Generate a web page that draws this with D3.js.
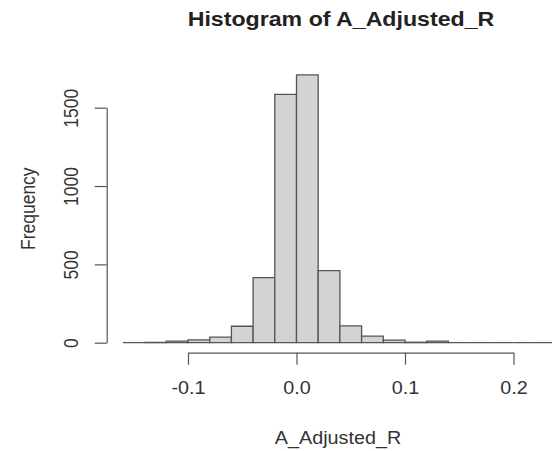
<!DOCTYPE html>
<html>
<head>
    <meta charset="utf-8">
    <title>Histogram of A_Adjusted_R</title>
    <style type="text/css">
        body { margin: 0; background: #fff; }
        svg { display: block; font-family: "Liberation Sans", Arial, sans-serif; }
        .axis path, .axis line { stroke: #555; stroke-width: 1.2; }
        .axis text { fill: #333; font-size: 17.5px; }
    </style>
</head>
<body>
    <script src="https://cdn.jsdelivr.net/npm/d3@7"></script>
    <script>
        // histogram breaks (bin width 0.02) and counts
        var breaks = [-0.16, -0.14, -0.12, -0.10, -0.08, -0.06, -0.04, -0.02, 0.00, 0.02, 0.04,
            0.06, 0.08, 0.10, 0.12, 0.14, 0.16, 0.18, 0.20, 0.22, 0.24, 0.26];
        var counts = [0, 2, 10, 18, 35, 105, 415, 1585, 1710, 460, 108,
            42, 17, 3, 10, 0, 0, 0, 0, 0, 0];
        var xTicks = [-0.1, 0.0, 0.1, 0.2];
        var yTicks = [0, 500, 1000, 1500];

        var width = 552,
            height = 451,
            sx = 1.13; // the source image is a little wider than tall

        var x = d3.scaleLinear().domain([-0.1, 0.2]).range([188, 513.5]);
        var y = d3.scaleLinear().domain([0, 1500]).range([342.7, 107.7]);

        var svg = d3.select("body").append("svg")
            .attr("width", width)
            .attr("height", height);

        var bins = counts.map(function (c, i) {
            return { x0: breaks[i], x1: breaks[i + 1], n: c };
        });

        // paths instead of rects, so empty bins still leave their bottom line
        svg.append("g").selectAll("path")
            .data(bins)
            .enter().append("path")
            .attr("d", function (d) {
                return "M" + x(d.x0) + "," + y(0) + "V" + y(d.n) + "H" + x(d.x1) + "V" + y(0) + "Z";
            })
            .style("fill", "#d3d3d3")
            .style("stroke", "#555")
            .style("stroke-width", 1.3);

        var xAxis = svg.append("g")
            .attr("class", "axis")
            .attr("transform", "translate(0,352.7)")
            .call(d3.axisBottom(x).tickValues(xTicks).tickSize(12).tickSizeOuter(0)
                .tickFormat(function (d) { return d.toFixed(1); }));
        xAxis.selectAll("text")
            .attr("y", null).attr("dy", "0.35em")
            .attr("transform", "translate(0,35.5) scale(" + sx + ",1)");

        var yAxis = svg.append("g")
            .attr("class", "axis")
            .attr("transform", "translate(106.7,0)")
            .call(d3.axisLeft(y).tickValues(yTicks).tickSize(12).tickSizeOuter(0)
                .tickFormat(function (d) { return String(d); }));
        yAxis.selectAll("text")
            .attr("x", null).attr("dy", "0.35em")
            .style("text-anchor", "middle")
            .attr("transform", "translate(-36,0) scale(" + sx + ",1) rotate(-90)");
        svg.selectAll(".axis").attr("font-family", null).attr("font-size", null);

        svg.append("text")
            .attr("transform", "translate(341,19) scale(" + sx + ",1)")
            .attr("dy", "0.35em")
            .style("text-anchor", "middle")
            .style("font-weight", "bold")
            .style("font-size", "20.5px")
            .style("fill", "#222")
            .text("Histogram of A_Adjusted_R");

        svg.append("text")
            .attr("transform", "translate(338,438) scale(" + sx + ",1)")
            .attr("dy", "0.35em")
            .style("text-anchor", "middle")
            .style("font-size", "17.5px")
            .style("fill", "#333")
            .text("A_Adjusted_R");

        svg.append("text")
            .attr("transform", "translate(28,208.7) scale(" + sx + ",1) rotate(-90)")
            .attr("dy", "0.35em")
            .style("text-anchor", "middle")
            .style("font-size", "17.5px")
            .style("fill", "#333")
            .text("Frequency");
    </script>
</body>
</html>
